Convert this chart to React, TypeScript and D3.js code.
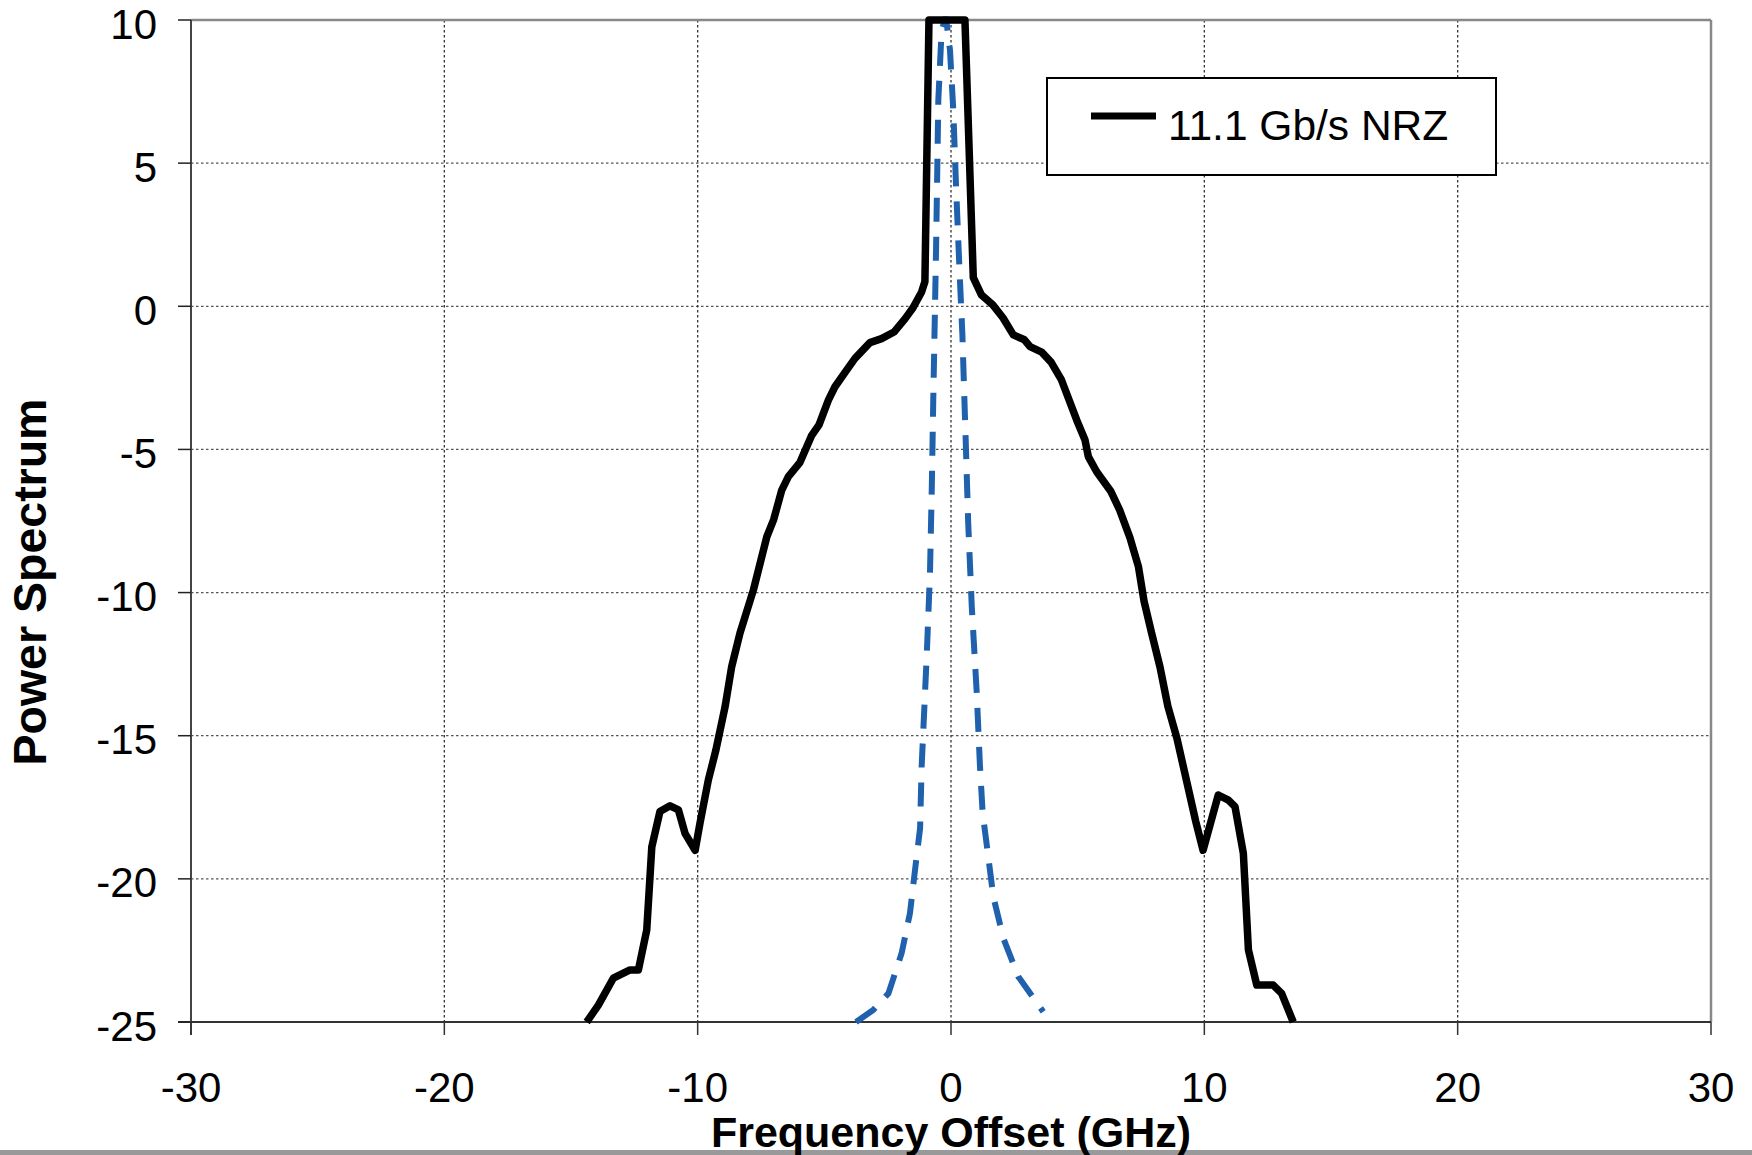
import React from "react";
import * as d3 from "d3";

const xTicks = [-30, -20, -10, 0, 10, 20, 30];
const yTicks = [10, 5, 0, -5, -10, -15, -20, -25];

const nrzX = [-14.38, -13.92, -13.33, -12.67, -12.34, -12.01, -11.81, -11.49, -11.09, -10.76, -10.5, -10.1, -9.91, -9.58, -9.28, -8.92, -8.66, -8.33, -7.8, -7.27, -7.0, -6.68, -6.42, -5.96, -5.51, -5.21, -4.84, -4.58, -4.12, -3.79, -3.2, -2.74, -2.25, -1.81, -1.5, -1.16, -1.03, -0.87, 0.55, 0.88, 1.2, 1.65, 2.05, 2.46, 2.9, 3.12, 3.58, 3.95, 4.35, 4.96, 5.29, 5.42, 5.75, 6.3, 6.65, 7.07, 7.4, 7.62, 7.9, 8.25, 8.56, 8.91, 9.31, 9.66, 9.95, 10.55, 10.95, 11.21, 11.54, 11.74, 12.07, 12.72, 13.05, 13.51];
const nrzY = [-25, -24.41, -23.47, -23.18, -23.18, -21.79, -18.88, -17.65, -17.45, -17.59, -18.41, -19.0, -18.06, -16.55, -15.5, -14.0, -12.6, -11.42, -9.91, -8.05, -7.45, -6.42, -5.95, -5.45, -4.53, -4.14, -3.28, -2.81, -2.23, -1.82, -1.27, -1.13, -0.9, -0.43, -0.05, 0.5, 0.86, 10, 10, 1.0, 0.4, 0.05, -0.4, -1.0, -1.17, -1.41, -1.6, -1.95, -2.55, -3.97, -4.67, -5.25, -5.78, -6.45, -7.1, -8.1, -9.1, -10.3, -11.35, -12.6, -13.97, -15.06, -16.62, -17.99, -19.0, -17.07, -17.25, -17.48, -19.11, -22.48, -23.71, -23.71, -24.0, -25];

const refX = [-3.75, -3.07, -2.47, -1.95, -1.62, -1.42, -1.22, -1.16, -0.96, -0.83, -0.76, -0.7, -0.63, -0.59, -0.54, -0.5, -0.37, -0.2, -0.04, 0.09, 0.2, 0.33, 0.45, 0.52, 0.58, 0.68, 0.82, 1.01, 1.14, 1.25, 1.47, 1.67, 2.07, 2.66, 3.64];
const refY = [-25, -24.58, -24.0, -22.6, -21.2, -19.69, -18.23, -16.1, -12.24, -9.33, -6.42, -3.27, 0.05, 1.97, 4.88, 7.2, 9.65, 10.1, 8.95, 6.86, 4.18, 1.38, -1.0, -3.0, -4.67, -7.58, -10.49, -13.4, -16.0, -17.71, -19.22, -20.62, -22.08, -23.42, -24.64];

const legendLabel = "11.1 Gb/s NRZ";
const xTitle = "Frequency Offset (GHz)";
const yTitle = "Power Spectrum";

const W = 1752;
const H = 1155;
const L = 191, R = 1711, T = 20, B = 1022;

export default function App() {
  const x = d3.scaleLinear().domain([-30, 30]).range([L, R]);
  const y = d3.scaleLinear().domain([-25, 10]).range([B, T]);
  const line = d3.line<[number, number]>().x(d => x(d[0])).y(d => y(d[1]));
  const nrz = line(nrzX.map((v, i) => [v, nrzY[i]] as [number, number])) || "";
  const ref = line(refX.map((v, i) => [v, refY[i]] as [number, number])) || "";
  const font = "'Liberation Sans', Arial, sans-serif";

  return (
    <svg width={W} height={H} style={{ position: "absolute", left: 0, top: 0, background: "#fff" }} fontFamily={font}>
      <rect x={0} y={0} width={W} height={H} fill="#fff" />
      {/* gridlines */}
      {yTicks.filter(t => t !== 10 && t !== -25).map(t => (
        <line key={"gy" + t} x1={L} x2={R} y1={y(t)} y2={y(t)} stroke="#555" strokeWidth={1.3} strokeDasharray="2.5,2.5" />
      ))}
      {xTicks.filter(t => t !== -30 && t !== 30).map(t => (
        <line key={"gx" + t} x1={x(t)} x2={x(t)} y1={T} y2={B} stroke="#333" strokeWidth={1.3} strokeDasharray="2.5,2.5" />
      ))}
      {/* plot border */}
      <line x1={L} x2={R} y1={T} y2={T} stroke="#888" strokeWidth={2.5} />
      <line x1={R} x2={R} y1={T} y2={B} stroke="#888" strokeWidth={2.5} />
      <line x1={L} x2={L} y1={T} y2={B + 13} stroke="#444" strokeWidth={2} />
      <line x1={L - 13} x2={R} y1={B} y2={B} stroke="#333" strokeWidth={2} />
      {/* ticks */}
      {yTicks.map(t => (
        <line key={"ty" + t} x1={L - 13} x2={L} y1={y(t)} y2={y(t)} stroke="#222" strokeWidth={1.5} />
      ))}
      {xTicks.map(t => (
        <line key={"tx" + t} x1={x(t)} x2={x(t)} y1={B} y2={B + 13} stroke="#333" strokeWidth={1.5} />
      ))}
      {/* tick labels */}
      {yTicks.map(t => (
        <text key={"ly" + t} x={157} y={y(t) + 18.5} fontSize={42} textAnchor="end" fill="#000">{t}</text>
      ))}
      {xTicks.map(t => (
        <text key={"lx" + t} x={x(t)} y={1102} fontSize={42} textAnchor="middle" fill="#000">{t}</text>
      ))}
      {/* data */}
      <path d={ref} fill="none" stroke="#2061AE" strokeWidth={6} strokeDasharray="24,15" />
      <path d={nrz} fill="none" stroke="#000" strokeWidth={7.5} strokeLinejoin="round" />
      {/* legend */}
      <rect x={1047} y={78} width={449} height={97} fill="#fff" stroke="#000" strokeWidth={2} />
      <line x1={1091} x2={1156} y1={116} y2={116} stroke="#000" strokeWidth={7} />
      <text x={1168} y={140} fontSize={42.5} fill="#000">{legendLabel}</text>
      {/* bottom bar */}
      <rect x={0} y={1150} width={W} height={5} fill="#999" />
      {/* titles */}
      <text x={951} y={1147} fontSize={43} fontWeight="bold" textAnchor="middle" fill="#000">{xTitle}</text>
      <text transform={`translate(46,582) rotate(-90)`} fontSize={46.5} fontWeight="bold" textAnchor="middle" fill="#000">{yTitle}</text>
    </svg>
  );
}
